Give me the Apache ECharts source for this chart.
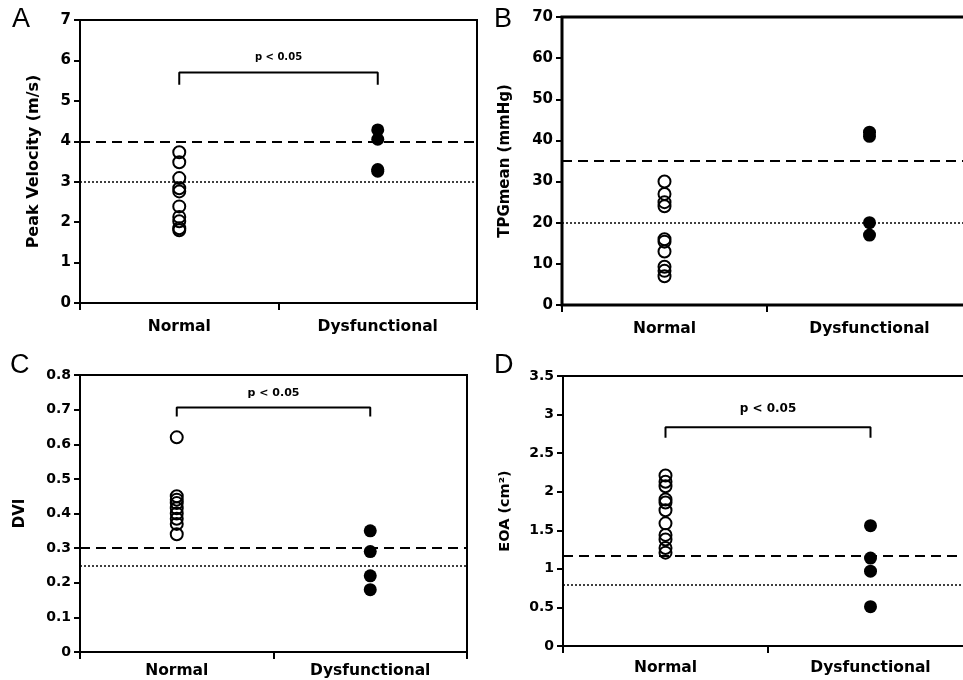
<!DOCTYPE html>
<html><head><meta charset="utf-8">
<script src="https://cdn.jsdelivr.net/npm/echarts@6/dist/echarts.min.js"></script>
<style>html,body{margin:0;padding:0;background:#fff}#c{width:963px;height:680px}</style>
</head><body><div id="c"></div>
<script>
// ---- data ----
const categories = ['Normal', 'Dysfunctional'];
const velocityNormal = [3.73, 3.48, 3.09, 2.84, 2.76, 2.39, 2.13, 2.02, 1.85, 1.80];
const velocityDysfunctional = [4.28, 4.05, 3.30, 3.26];
const tpgNormal = [30, 27, 25, 24, 16, 15.4, 13, 9.3, 8.3, 7];
const tpgDysfunctional = [42, 41, 20, 17];
const dviNormal = [0.62, 0.45, 0.44, 0.43, 0.415, 0.40, 0.385, 0.37, 0.34];
const dviDysfunctional = [0.35, 0.29, 0.22, 0.18];
const eoaNormal = [2.21, 2.13, 2.07, 1.90, 1.86, 1.76, 1.59, 1.44, 1.38, 1.27, 1.21];
const eoaDysfunctional = [1.56, 1.14, 0.97, 0.51];
// y-axis ticks [min, max, interval]
const velocityTicks = [0, 7, 1];
const tpgTicks = [0, 70, 10];
const dviTicks = [0, 0.8, 0.1];
const eoaTicks = [0, 3.5, 0.5];
// reference thresholds [dashed, dotted]
const velocityCutoffs = [4, 3];
const tpgCutoffs = [35, 20];
const dviCutoffs = [0.3, 0.25];
const eoaCutoffs = [1.17, 0.8];
// significance bracket heights [top, foot]
const velocityBracket = [5.7, 5.4];
const dviBracket = [0.706, 0.68];
const eoaBracket = [2.835, 2.70];
const pText = 'p < 0.05';

const panels = [
  {letter:'A', grid:{left:80, top:20, width:397, height:283}, name:'Peak Velocity (m/s)', nameSize:16, nameGap:38,
   ticks:velocityTicks, tickSize:15, catMargin:16, normal:velocityNormal, dys:velocityDysfunctional, cut:velocityCutoffs, bracket:velocityBracket,
   pSize:10, pGap:10, letterPos:[12,6], border:2},
  {letter:'B', grid:{left:562, top:17, width:410, height:288}, name:'TPGmean (mmHg)', nameSize:15, nameGap:49,
   ticks:tpgTicks, tickSize:15, catMargin:16, normal:tpgNormal, dys:tpgDysfunctional, cut:tpgCutoffs, bracket:null,
   letterPos:[494,6], border:3},
  {letter:'C', grid:{left:80, top:375, width:387, height:277}, name:'DVI', nameSize:15, nameGap:52,
   ticks:dviTicks, tickSize:14, catMargin:11, normal:dviNormal, dys:dviDysfunctional, cut:dviCutoffs, bracket:dviBracket,
   pSize:11, pGap:9, letterPos:[10,352], border:2},
  {letter:'D', grid:{left:563, top:376, width:410, height:270}, name:'EOA (cm²)', nameSize:14.5, nameGap:50,
   ticks:eoaTicks, tickSize:14, catMargin:14, normal:eoaNormal, dys:eoaDysfunctional, cut:eoaCutoffs, bracket:eoaBracket,
   pSize:12, pGap:12, letterPos:[494,352], border:2}
];

const FONT = 'DejaVu Sans';
const grids = [], xAxes = [], yAxes = [], series = [];
panels.forEach((p, i) => {
  grids.push(Object.assign({show:true, borderColor:'#000', borderWidth:p.border, backgroundColor:'transparent',
    outerBoundsMode:'none', containLabel:false}, p.grid));
  xAxes.push({
    type:'category', data:categories, gridIndex:i, boundaryGap:true,
    axisLine:{lineStyle:{color:'#000', width:2}},
    axisTick:{show:true, length:7, lineStyle:{color:'#000', width:2}},
    axisLabel:{color:'#000', fontFamily:FONT, fontWeight:'bold', fontSize:15.5, margin:p.catMargin},
    splitLine:{show:false}
  });
  yAxes.push({
    type:'value', gridIndex:i, min:p.ticks[0], max:p.ticks[1], interval:p.ticks[2],
    name:p.name, nameLocation:'middle', nameRotate:90, nameGap:p.nameGap,
    nameTextStyle:{color:'#000', fontFamily:FONT, fontWeight:'bold', fontSize:p.nameSize},
    axisLine:{show:true, lineStyle:{color:'#000', width:2}},
    axisTick:{show:true, length:6, lineStyle:{color:'#000', width:2}},
    axisLabel:{color:'#000', fontFamily:FONT, fontWeight:'bold', fontSize:p.tickSize, margin:9},
    splitLine:{show:false}
  });
  series.push({
    type:'scatter', xAxisIndex:i, yAxisIndex:i, symbol:'circle', symbolSize:12,
    itemStyle:{color:'rgba(0,0,0,0)', borderColor:'#000', borderWidth:2, opacity:1},
    data:p.normal.map(v => [categories[0], v]), z:5,
    markLine:{silent:true, symbol:'none', label:{show:false},
      data:[
        {yAxis:p.cut[0], lineStyle:{type:[10,6], color:'#000', width:2}},
        {yAxis:p.cut[1], lineStyle:{type:[2,2], color:'#000', width:1.5}}
      ]}
  });
  series.push({
    type:'scatter', xAxisIndex:i, yAxisIndex:i, symbol:'circle', symbolSize:13,
    itemStyle:{color:'#000', opacity:1}, data:p.dys.map(v => [categories[1], v]), z:5
  });
  if (p.bracket) {
    series.push({
      type:'line', xAxisIndex:i, yAxisIndex:i, symbol:'none', silent:true,
      lineStyle:{color:'#000', width:2},
      data:[[categories[0], p.bracket[1]], [categories[0], p.bracket[0]],
            [categories[1], p.bracket[0]], [categories[1], p.bracket[1]]]
    });
  }
});

const chart = echarts.init(document.getElementById('c'), null, {renderer:'canvas'});
chart.setOption({animation:false, backgroundColor:'#fff', grid:grids, xAxis:xAxes, yAxis:yAxes, series:series});

const graphics = [];
panels.forEach((p, i) => {
  graphics.push({type:'text', left:p.letterPos[0], top:p.letterPos[1],
    style:{text:p.letter, font:'27px "Liberation Sans", sans-serif', fill:'#000'}});
  if (p.bracket) {
    const a = chart.convertToPixel({gridIndex:i}, [categories[0], p.bracket[0]]);
    const b = chart.convertToPixel({gridIndex:i}, [categories[1], p.bracket[0]]);
    graphics.push({type:'text', x:(a[0]+b[0])/2, y:a[1]-p.pGap,
      style:{text:pText, fill:'#000', font:'bold '+p.pSize+'px "'+FONT+'"', textAlign:'center', textVerticalAlign:'bottom'}});
  }
});
chart.setOption({graphic:graphics});
</script></body></html>
